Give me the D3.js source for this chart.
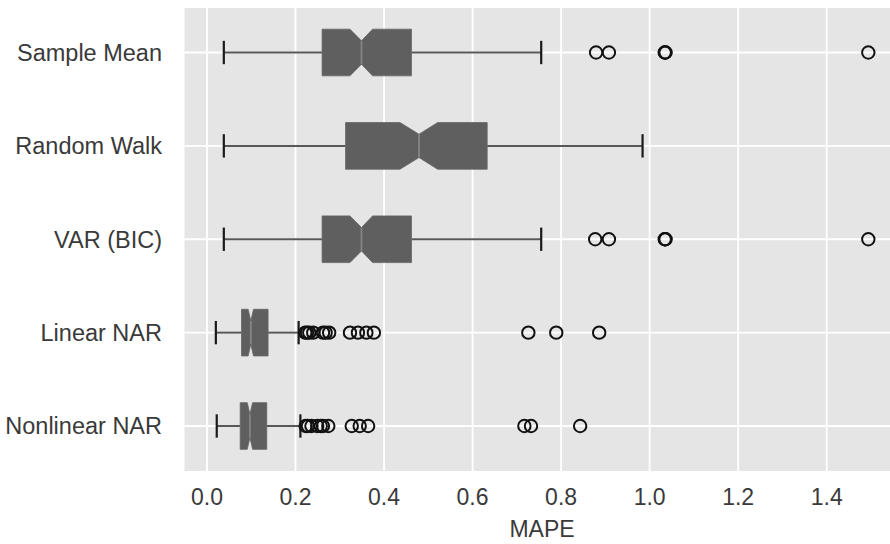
<!DOCTYPE html>
<html>
  <head>
    <meta charset="utf-8">
    <title>MAPE boxplot</title>
    <script src="https://d3js.org/d3.v7.min.js"></script>
    <style>
      body { margin: 0; background: #fff; }
      text { font-family: "Liberation Sans", Arial, sans-serif; fill: #3a3a3a; }
    </style>
  </head>
  <body>
    <script>
    var w = 890;
    var h = 544;

    // categories, top to bottom
    var models = ["Sample Mean", "Random Walk", "VAR (BIC)", "Linear NAR", "Nonlinear NAR"];

    // box statistics
    var whiskerLow  = [0.038, 0.038, 0.038, 0.020, 0.022];
    var q1          = [0.260, 0.313, 0.260, 0.078, 0.075];
    var median      = [0.349, 0.479, 0.349, 0.099, 0.097];
    var q3          = [0.462, 0.633, 0.462, 0.138, 0.135];
    var whiskerHigh = [0.755, 0.984, 0.755, 0.207, 0.211];
    var notchLow    = [0.323, 0.436, 0.323, 0.093, 0.091];
    var notchHigh   = [0.374, 0.521, 0.374, 0.105, 0.103];

    var outliers = [
      [0.879, 0.908, 1.034, 1.035, 1.036, 1.494],
      [],
      [0.877, 0.908, 1.034, 1.035, 1.036, 1.494],
      [0.222, 0.226, 0.231, 0.240, 0.262, 0.268, 0.276, 0.323, 0.341, 0.360, 0.377, 0.726, 0.789, 0.886],
      [0.223, 0.228, 0.236, 0.249, 0.257, 0.262, 0.274, 0.327, 0.345, 0.364, 0.717, 0.732, 0.843]
    ];

    var xTicks = [0.0, 0.2, 0.4, 0.6, 0.8, 1.0, 1.2, 1.4];

    var plot = {left: 184.5, top: 8, right: 890, bottom: 471};

    var x = d3.scaleLinear().domain([0, 1.4]).range([207, 826.7]);
    // position 0 = top category
    var y = d3.scaleLinear().domain([0, 4]).range([52.5, 426]);
    var unit = y(1) - y(0);
    var boxHalf = unit * 0.25;
    var capHalf = boxHalf * 0.5;

    var svg = d3.select("body").append("svg")
      .attr("width", w).attr("height", h);

    svg.append("rect")
      .attr("x", plot.left).attr("y", plot.top)
      .attr("width", plot.right - plot.left).attr("height", plot.bottom - plot.top)
      .attr("fill", "#e5e5e5");

    // grid
    svg.selectAll("line.vgrid").data(xTicks).enter().append("line")
      .attr("x1", function(d){ return x(d) }).attr("x2", function(d){ return x(d) })
      .attr("y1", plot.top).attr("y2", plot.bottom)
      .attr("stroke", "#fff").attr("stroke-width", 1.8);

    svg.selectAll("line.hgrid").data(models).enter().append("line")
      .attr("x1", plot.left).attr("x2", plot.right)
      .attr("y1", function(d, i){ return y(i) }).attr("y2", function(d, i){ return y(i) })
      .attr("stroke", "#fff").attr("stroke-width", 1.8);

    var g = svg.selectAll("g.box").data(models).enter().append("g")
      .attr("transform", function(d, i){ return "translate(0," + y(i) + ")" });

    // whiskers
    g.append("line")
      .attr("x1", function(d, i){ return x(whiskerLow[i]) })
      .attr("x2", function(d, i){ return x(q1[i]) })
      .attr("stroke", "#585858").attr("stroke-width", 2);
    g.append("line")
      .attr("x1", function(d, i){ return x(q3[i]) })
      .attr("x2", function(d, i){ return x(whiskerHigh[i]) })
      .attr("stroke", "#585858").attr("stroke-width", 2);

    // caps
    [whiskerLow, whiskerHigh].forEach(function(arr){
      g.append("line")
        .attr("x1", function(d, i){ return x(arr[i]) })
        .attr("x2", function(d, i){ return x(arr[i]) })
        .attr("y1", -capHalf).attr("y2", capHalf)
        .attr("stroke", "#1a1a1a").attr("stroke-width", 2.2);
    });

    // notched boxes
    g.append("path")
      .attr("d", function(d, i){
        var p = d3.path();
        p.moveTo(x(q1[i]), -boxHalf);
        p.lineTo(x(notchLow[i]), -boxHalf);
        p.lineTo(x(median[i]), -boxHalf / 2);
        p.lineTo(x(notchHigh[i]), -boxHalf);
        p.lineTo(x(q3[i]), -boxHalf);
        p.lineTo(x(q3[i]), boxHalf);
        p.lineTo(x(notchHigh[i]), boxHalf);
        p.lineTo(x(median[i]), boxHalf / 2);
        p.lineTo(x(notchLow[i]), boxHalf);
        p.lineTo(x(q1[i]), boxHalf);
        p.closePath();
        return p.toString();
      })
      .attr("fill", "#5f5f5f").attr("stroke", "#666").attr("stroke-width", 0.8);

    // medians
    g.append("line")
      .attr("x1", function(d, i){ return x(median[i]) })
      .attr("x2", function(d, i){ return x(median[i]) })
      .attr("y1", -boxHalf / 2).attr("y2", boxHalf / 2)
      .attr("stroke", "#858585").attr("stroke-width", 1.8);

    // fliers
    g.each(function(d, i){
      d3.select(this).selectAll("circle").data(outliers[i]).enter().append("circle")
        .attr("cx", function(v){ return x(v) })
        .attr("cy", 0)
        .attr("r", 6.2)
        .attr("fill", "none")
        .attr("stroke", "#111")
        .attr("stroke-width", 2);
    });

    // category labels
    svg.selectAll("text.ylab").data(models).enter().append("text")
      .attr("x", 162).attr("y", function(d, i){ return y(i) })
      .attr("dy", "0.36em")
      .attr("text-anchor", "end")
      .attr("font-size", "23.5px")
      .text(function(d){ return d });

    // x tick labels
    svg.selectAll("text.xtick").data(xTicks).enter().append("text")
      .attr("x", function(d){ return x(d) }).attr("y", 505)
      .attr("text-anchor", "middle")
      .attr("font-size", "23px")
      .text(function(d){ return d3.format(".1f")(d) });

    svg.append("text")
      .attr("x", 542).attr("y", 537)
      .attr("text-anchor", "middle")
      .attr("font-size", "23px")
      .text("MAPE");
    </script>
  </body>
</html>
